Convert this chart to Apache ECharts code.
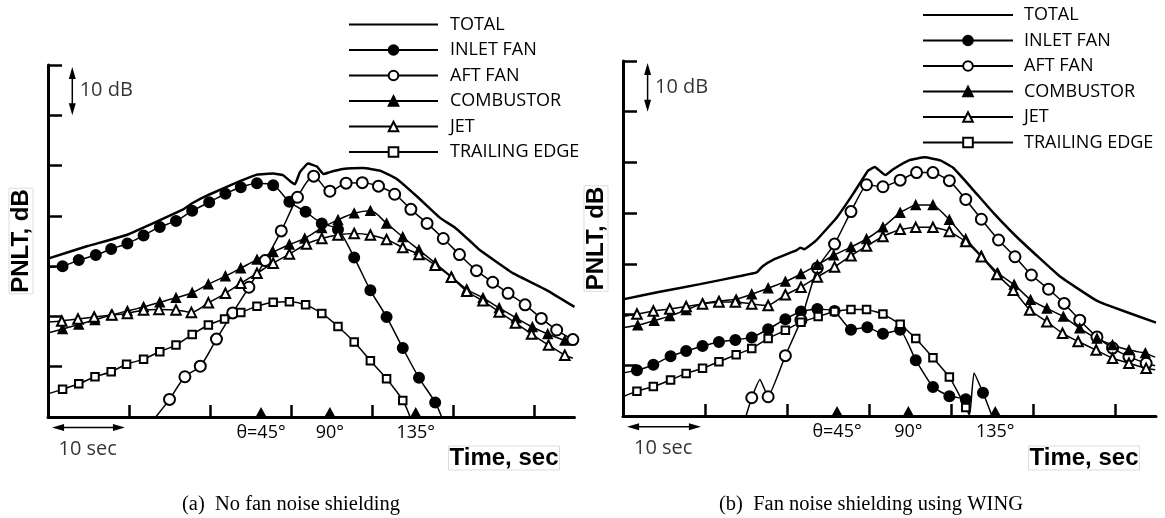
<!DOCTYPE html>
<html>
<head>
<meta charset="utf-8">
<title>PNLT time histories</title>
<script src="https://cdn.jsdelivr.net/npm/echarts@6/dist/echarts.min.js"></script>
<style>
html, body { margin: 0; padding: 0; background: #fff; }
#chart { width: 1165px; height: 518px; }
</style>
</head>
<body>
<div id="chart"></div>
<script>
// [time sec, level dB above the lowest tick]
// panel (a): no fan noise shielding
const totalA = [[0,31.5],[4.9,34.0],[9.7,36.2],[16.7,41.3],[17.8,42.5],[20.0,44.3],[23.7,46.9],[25.8,48.2],[27.8,48.4],[29.0,48.1],[29.9,46.9],[30.5,46.3],[31.1,48.7],[32.1,50.4],[33.2,49.8],[34.0,48.3],[34.8,48.7],[36.4,49.3],[38.9,49.5],[41.0,49.0],[43.1,47.3],[45.6,43.8],[48.4,39.6],[50.3,37.6],[52.1,35.0],[53.3,33.2],[57.4,28.6],[61.6,25.2],[65.0,21.9]];
const inletA = [[0,29.8],[1.8,30.0],[3.8,31.2],[5.9,32.2],[7.8,33.4],[9.8,34.5],[11.8,36.1],[13.8,37.8],[15.8,39.0],[17.8,41.0],[19.9,42.7],[21.9,44.4],[23.8,45.7],[25.8,46.5],[27.8,46.1],[29.8,42.8],[31.8,40.8],[33.8,38.5],[35.8,37.3],[37.8,31.7],[39.8,25.2],[41.8,19.9],[43.8,13.7],[45.8,7.8],[47.8,2.9],[48.6,0]];
const aftA = [[13.3,0],[15.0,3.5],[16.9,8.0],[18.8,10.1],[20.8,15.5],[22.8,20.7],[24.8,25.8],[26.8,31.1],[28.8,37.0],[30.8,43.7],[32.8,47.9],[34.8,44.9],[36.8,46.5],[38.8,46.6],[40.8,45.9],[42.8,44.3],[44.8,41.3],[46.8,38.5],[48.8,35.5],[50.8,32.3],[52.9,29.1],[54.9,26.8],[56.8,24.6],[58.9,22.3],[60.9,19.6],[62.8,17.3],[64.8,15.4]];
const combA = [[0,16.7],[1.8,17.5],[3.8,18.4],[5.8,19.3],[7.8,20.3],[9.8,21.1],[11.8,21.9],[13.8,22.8],[15.8,23.7],[17.8,24.7],[19.8,26.4],[21.9,28.0],[23.8,29.6],[25.8,31.3],[27.8,32.8],[29.8,34.3],[31.7,35.5],[33.8,37.6],[35.8,39.2],[37.8,40.5],[39.8,41.0],[41.8,38.5],[43.8,35.8],[45.8,33.2],[47.8,30.6],[49.8,27.9],[51.7,25.4],[53.7,23.7],[55.7,21.7],[57.8,19.7],[59.8,17.9],[61.7,16.5],[63.8,15.2],[64.8,14.7]];
const jetA = [[0,18.9],[1.7,19.1],[3.7,19.5],[5.7,19.9],[7.9,20.3],[9.8,20.6],[11.8,21.3],[13.7,21.4],[15.8,21.3],[17.7,20.8],[19.8,22.7],[21.9,24.6],[23.8,26.6],[25.8,28.6],[27.8,30.6],[29.8,32.4],[31.9,34.4],[33.8,35.5],[35.8,36.2],[37.8,36.5],[39.8,36.2],[41.8,35.3],[43.8,33.7],[45.8,32.3],[47.8,30.2],[49.8,27.8],[51.7,25.0],[53.7,23.1],[55.7,20.9],[57.7,18.7],[59.7,16.5],[61.8,14.3],[63.8,12.3],[64.8,11.7]];
const teA = [[0,4.6],[1.8,5.5],[3.8,6.6],[5.8,8.0],[7.8,9.0],[9.7,10.5],[11.8,11.5],[13.8,13.0],[15.8,14.3],[17.8,16.4],[19.8,18.3],[21.8,19.5],[23.8,20.8],[25.8,22.0],[27.8,22.8],[29.8,22.9],[31.8,22.3],[33.8,20.6],[35.8,18.0],[37.8,14.9],[39.8,11.2],[41.8,7.6],[43.8,3.3],[44.7,0]];

// panel (b): fan noise shielding using WING
const totalB = [[0,23.0],[4.5,24.5],[9.4,26.0],[14.3,27.6],[16.3,28.3],[17.0,29.5],[18.3,30.8],[21.2,32.7],[21.6,33.2],[22.1,32.9],[23.6,34.7],[26.1,39.2],[28.1,43.9],[29.9,48.4],[30.7,49.1],[32.0,47.5],[33.0,48.7],[35.0,50.5],[36.8,51.0],[38.7,50.4],[40.3,48.9],[42.7,44.6],[45.2,40.0],[48.4,34.7],[53.3,27.5],[57.4,23.1],[59.0,21.9],[65.0,18.4]];
const inletB = [[0,8.5],[1.7,9.0],[3.7,10.1],[5.8,11.8],[7.7,12.8],[9.7,13.8],[11.7,14.6],[13.7,15.0],[15.7,15.5],[17.7,17.1],[19.8,19.1],[21.7,20.6],[23.7,21.1],[25.8,20.7],[27.8,17.0],[29.8,17.5],[31.7,16.2],[33.8,17.0],[35.7,11.0],[37.8,5.7],[39.8,3.9],[41.8,3.3],[42.3,0.4],[42.8,8.5],[43.9,4.6],[45.0,0]];
const aftB = [[15.0,0],[15.7,3.6],[16.7,7.2],[17.7,3.8],[19.8,11.9],[21.7,18.9],[23.7,29.2],[25.8,33.9],[27.8,40.3],[29.7,45.6],[31.7,45.2],[33.8,46.5],[35.8,48.0],[37.8,48.0],[39.8,46.4],[41.8,42.7],[43.7,38.8],[45.8,34.7],[47.8,31.4],[49.8,27.8],[51.9,25.0],[53.8,22.2],[55.7,18.9],[57.8,15.6],[59.7,13.4],[61.7,11.7],[63.8,10.4],[64.9,9.9]];
const combB = [[0,17.4],[1.8,17.9],[3.8,18.8],[5.7,19.7],[7.7,20.9],[9.7,22.2],[11.7,22.7],[13.8,23.0],[15.7,24.0],[17.7,25.2],[19.8,26.5],[21.7,28.0],[23.7,29.8],[25.7,31.7],[27.8,33.3],[29.7,34.9],[31.7,37.2],[33.8,40.1],[35.7,41.6],[37.8,41.6],[39.8,38.7],[41.8,34.9],[43.7,31.6],[45.7,28.2],[47.7,25.9],[49.7,22.9],[51.7,21.2],[53.7,19.6],[55.7,17.3],[57.8,15.3],[59.7,14.0],[61.7,13.0],[63.7,12.4],[64.9,11.6]];
const jetB = [[0,19.6],[1.7,20.1],[3.7,20.7],[5.7,21.1],[7.7,21.6],[9.7,22.1],[11.7,22.5],[13.7,22.5],[15.7,22.1],[17.7,21.8],[19.8,23.9],[21.7,25.4],[23.7,27.4],[25.8,29.4],[27.8,31.6],[29.7,33.5],[31.7,35.4],[33.8,36.8],[35.7,37.2],[37.8,37.2],[39.8,36.4],[41.8,34.4],[43.7,31.4],[45.6,27.9],[47.6,24.8],[49.6,20.9],[51.7,18.6],[53.6,16.3],[55.5,14.7],[57.7,13.0],[59.7,11.4],[61.7,10.4],[63.8,9.4],[64.9,9.1]];
const teB = [[0,3.8],[1.7,4.9],[3.7,5.8],[5.8,7.1],[7.7,8.4],[9.7,9.4],[11.7,10.7],[13.8,12.1],[15.7,13.3],[17.7,15.3],[19.8,16.9],[21.7,18.5],[23.8,19.6],[25.8,20.6],[27.8,21.0],[29.7,21.0],[31.7,20.1],[33.8,18.1],[35.7,15.3],[37.8,11.5],[39.8,7.7],[41.8,1.7],[42.3,0]];

const names = ['TOTAL', 'INLET FAN', 'AFT FAN', 'COMBUSTOR', 'JET', 'TRAILING EDGE'];
const angleLabels = ['θ=45°', '90°', '135°'];
const anglesA = [26.3, 34.8, 45.4];
const anglesB = [26.1, 34.8, 45.4];
const secTicks = [10, 20, 30, 40, 50, 60];
const scaleArrows = [[3.0, 60, 3.0, 69.6], [0.5, -2.1, 9.5, -2.1]];
const scaleNotes = [[3.6, 64.9], [4.9, -6.4]];
const noteTexts = ['10 dB', '10 sec'];

const looks = {
  'TOTAL': { symbol: 'none', size: 0, width: 2.5 },
  'INLET FAN': { symbol: 'circle', size: 10.5, width: 1.5 },
  'AFT FAN': { symbol: 'emptyCircle', size: 11, width: 1.5 },
  'COMBUSTOR': { symbol: 'triangle', size: 9, width: 1.5 },
  'JET': { symbol: 'emptyTriangle', size: 9.5, width: 1.5 },
  'TRAILING EDGE': { symbol: 'emptyRect', size: 7.5, width: 1.5 }
};

// panel lines and the points that are only line ends (no marker)
const panels = [
  { lines: [totalA, inletA, aftA, combA, jetA, teA],
    bare: [[], [0, -1], [0], [0, -1], [0, -1], [0, -1]], angles: anglesA, smooth: 0.3 },
  { lines: [totalB, inletB, aftB, combB, jetB, teB],
    bare: [[], [0, 22, 23, -1], [0, 2, -1], [0, -1], [0, -1], [0, -1]], angles: anglesB, smooth: 0.12 }
];

const font = 'Open Sans';

function pts(arr, bare) {
  return arr.map(function (p, i) {
    if (bare.indexOf(i) > -1 || bare.indexOf(i - arr.length) > -1) {
      return { value: p, symbol: 'none' };
    }
    return p;
  });
}

function drawArrow(params, api) {
  var a = api.coord([api.value(0), api.value(1)]);
  var b = api.coord([api.value(2), api.value(3)]);
  var dx = b[0] - a[0], dy = b[1] - a[1];
  var len = Math.sqrt(dx * dx + dy * dy);
  var ux = dx / len, uy = dy / len;
  var head = 12, half = 3.5;
  function tip(p, s) {
    var bx = p[0] - s * ux * head, by = p[1] - s * uy * head;
    return [[p[0], p[1]], [bx - uy * half, by + ux * half], [bx + uy * half, by - ux * half]];
  }
  return {
    type: 'group',
    children: [
      { type: 'line', shape: { x1: a[0] + ux * 8, y1: a[1] + uy * 8, x2: b[0] - ux * 8, y2: b[1] - uy * 8 },
        style: { stroke: '#000', lineWidth: 1.5 } },
      { type: 'polygon', shape: { points: tip(b, 1) }, style: { fill: '#000' } },
      { type: 'polygon', shape: { points: tip(a, -1) }, style: { fill: '#000' } }
    ]
  };
}

var series = [];
var xAxes = [];
var yAxes = [];
panels.forEach(function (pn, g) {
  xAxes.push({
    gridIndex: g, type: 'value', min: 0, max: 65,
    axisLine: { onZero: false, lineStyle: { color: '#000', width: 3 } },
    axisTick: { inside: true, length: 12, customValues: secTicks, lineStyle: { color: '#000', width: 2.5 } },
    axisLabel: { show: false },
    splitLine: { show: false }
  });
  yAxes.push({
    gridIndex: g, type: 'value', min: 0, max: 70, interval: 10,
    axisLine: { lineStyle: { color: '#000', width: 3 } },
    axisTick: { inside: true, length: 14, lineStyle: { color: '#000', width: 2.5 } },
    axisLabel: { show: false },
    splitLine: { show: false },
    name: 'PNLT, dB', nameLocation: 'middle', nameGap: 15,
    nameTextStyle: { fontFamily: 'Liberation Sans', fontWeight: 'bold', fontSize: 24, color: '#000',
      borderColor: '#ddd', borderWidth: 1, padding: [0, 1] }
  });
  pn.lines.forEach(function (arr, k) {
    var nm = names[k], lk = looks[nm];
    series.push({
      type: 'line', name: nm, xAxisIndex: g, yAxisIndex: g,
      data: pts(arr, pn.bare[k]),
      symbol: lk.symbol, symbolSize: lk.size, showSymbol: lk.symbol !== 'none',
      smooth: k === 0 ? 0.1 : pn.smooth, clip: false, animation: false,
      lineStyle: { color: '#000', width: lk.width },
      itemStyle: { color: '#000', borderColor: '#000', borderWidth: 1.5, opacity: 1 },
      emphasis: { disabled: true }
    });
  });
  series.push({
    type: 'scatter', xAxisIndex: g, yAxisIndex: g, clip: false, silent: true, z: 5,
    data: pn.angles.map(function (x, i) { return { value: [x, 0], name: angleLabels[i] }; }),
    symbol: 'triangle', symbolSize: [11, 10], symbolOffset: [0, -5],
    itemStyle: { color: '#000', opacity: 1 },
    label: { show: true, position: 'bottom', distance: 7, formatter: '{b}',
      fontFamily: font, fontSize: 18, color: '#000' }
  });
  series.push({
    type: 'custom', xAxisIndex: g, yAxisIndex: g, clip: false, silent: true,
    data: scaleArrows, renderItem: drawArrow
  });
  series.push({
    type: 'scatter', xAxisIndex: g, yAxisIndex: g, clip: false, silent: true,
    data: scaleNotes.map(function (p, i) {
      return { value: p, name: noteTexts[i], label: { position: i === 0 ? 'right' : 'inside', distance: 2 } };
    }),
    symbolSize: 1, itemStyle: { color: 'rgba(0,0,0,0)' },
    label: { show: true, formatter: '{b}', fontFamily: font, fontSize: 20, color: '#000' }
  });
});

var legendData = names.map(function (n) {
  return n === 'TOTAL' ? { name: n, itemStyle: { opacity: 0 } } : n;
});
function makeLegend(left, top, w, pad) {
  return {
    orient: 'vertical', left: left, top: top, padding: 0,
    itemWidth: w, itemHeight: 12, itemGap: 7.5, selectedMode: false,
    textStyle: { fontFamily: font, fontSize: 18, lineHeight: 18, color: '#000', padding: [0, 0, 0, pad] },
    data: legendData
  };
}

var chart = echarts.init(document.getElementById('chart'), null, { renderer: 'canvas' });
chart.setOption({
  animation: false,
  backgroundColor: '#fff',
  textStyle: { fontFamily: font },
  grid: [
    { left: 48, top: 65, width: 526.5, height: 352, outerBoundsMode: 'none' },
    { left: 623, top: 61, width: 533, height: 355, outerBoundsMode: 'none' }
  ],
  xAxis: xAxes,
  yAxis: yAxes,
  legend: [makeLegend(348, 15.5, 89, 7), makeLegend(922, 6, 90, 6)],
  graphic: [
    { type: 'text', x: 504, y: 458, silent: true,
      style: { text: 'Time, sec', font: 'bold 24px "Liberation Sans"', fill: '#000', align: 'center', verticalAlign: 'middle',
        borderColor: '#ddd', borderWidth: 1, padding: [0, 1] } },
    { type: 'text', x: 1084, y: 458, silent: true,
      style: { text: 'Time, sec', font: 'bold 24px "Liberation Sans"', fill: '#000', align: 'center', verticalAlign: 'middle',
        borderColor: '#ddd', borderWidth: 1, padding: [0, 1] } },
    { type: 'text', x: 291, y: 505, silent: true,
      style: { text: '(a)\u2002No fan noise shielding', font: '20.5px "Liberation Serif"', fill: '#000', align: 'center', verticalAlign: 'middle' } },
    { type: 'text', x: 871, y: 505, silent: true,
      style: { text: '(b)\u2002Fan noise shielding using WING', font: '20.5px "Liberation Serif"', fill: '#000', align: 'center', verticalAlign: 'middle' } }
  ],
  series: series
});
</script>
</body>
</html>
